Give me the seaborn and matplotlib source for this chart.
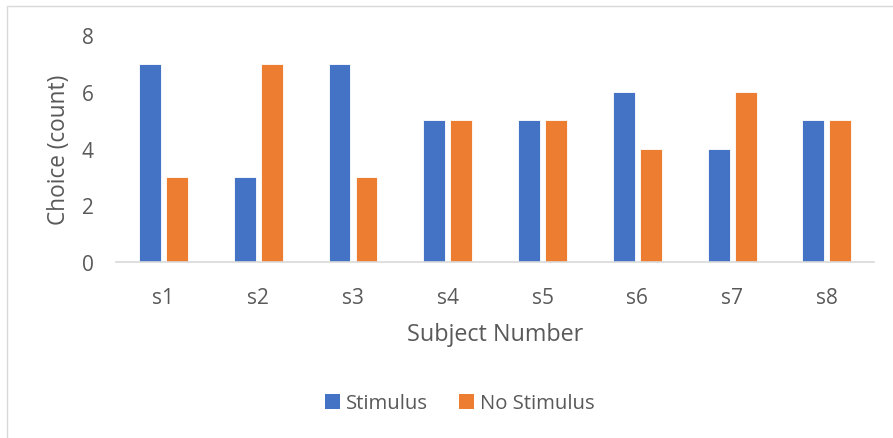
import matplotlib
matplotlib.use("Agg")
import matplotlib.pyplot as plt
import seaborn as sns
import pandas as pd
from matplotlib.patches import Patch
from matplotlib.lines import Line2D

subjects = ["s1", "s2", "s3", "s4", "s5", "s6", "s7", "s8"]
stimulus = [7, 3, 7, 5, 5, 6, 4, 5]
no_stimulus = [3, 7, 3, 5, 5, 4, 6, 5]
series_names = ["Stimulus", "No Stimulus"]
colors = ["#4472C4", "#ED7D31"]
yticks = [0, 2, 4, 6, 8]

df = pd.DataFrame({
    "subject": subjects * 2,
    "count": stimulus + no_stimulus,
    "series": [series_names[0]] * len(subjects) + [series_names[1]] * len(subjects),
})

sns.set_theme(style="white")
plt.rcParams["font.family"] = ["Open Sans", "DejaVu Sans"]

fig = plt.figure(figsize=(8.93, 4.39), dpi=100)
ax = fig.add_axes([0.130, 0.401, 0.849, 0.516])

sns.barplot(data=df, x="subject", y="count", hue="series", order=subjects,
            hue_order=series_names, palette=colors, width=0.57, gap=0.19,
            edgecolor="white", linewidth=0.6, saturation=1, legend=False, ax=ax)

ax.set_ylim(0, 8)
ax.set_xlim(-0.5, len(subjects) - 0.5)
ax.set_yticks(yticks)
ax.set_yticklabels([str(t) for t in yticks])
ax.tick_params(axis="both", length=0, labelsize=15, colors="#595959")
ax.tick_params(axis="x", pad=18)
ax.tick_params(axis="y", pad=16)
for s in ["top", "right", "left"]:
    ax.spines[s].set_visible(False)
ax.spines["bottom"].set_color("#D9D9D9")
ax.spines["bottom"].set_linewidth(1.2)
ax.set_xlabel("Subject Number", fontsize=16.8, color="#595959", labelpad=10)
ax.set_ylabel("Choice (count)", fontsize=16.3, color="#595959", labelpad=8)

handles = [Patch(facecolor=c, edgecolor="none") for c in colors]
fig.legend(handles, series_names, loc="center", bbox_to_anchor=(0.515, 0.079),
           ncol=2, frameon=False, fontsize=14.6, handlelength=0.75, handleheight=0.75,
           columnspacing=1.5, handletextpad=0.3, labelcolor="#595959")

# chart area border (partially visible in reference)
fig.add_artist(Line2D([0.008, 1.0], [1 - 7 / 439, 1 - 7 / 439], transform=fig.transFigure,
                      color="#D9D9D9", linewidth=1))
fig.add_artist(Line2D([0.008, 0.008], [0.0, 1 - 7 / 439], transform=fig.transFigure,
                      color="#D9D9D9", linewidth=1))

fig.savefig("out.png", dpi=100, facecolor="white")
